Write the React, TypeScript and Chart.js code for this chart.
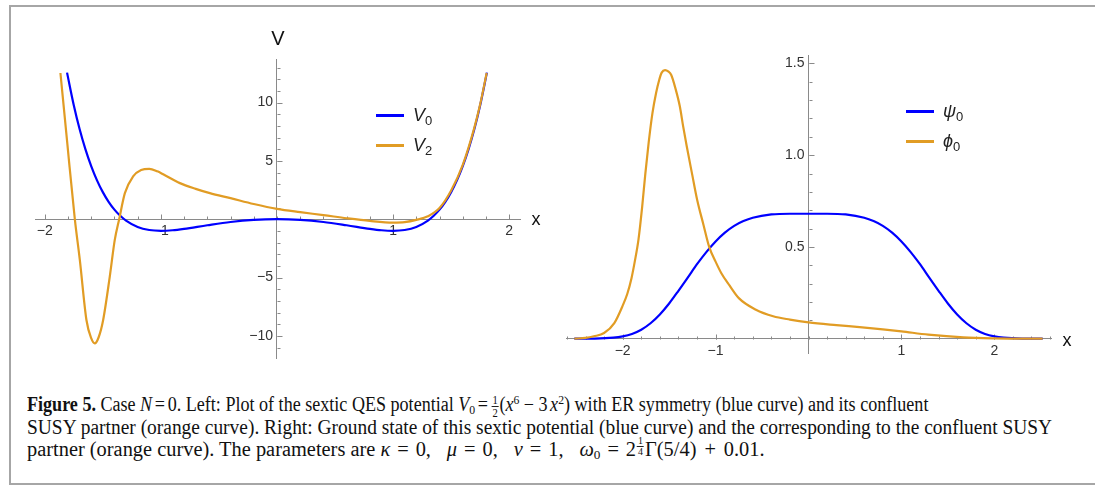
import React, { useEffect, useLayoutEffect, useRef } from 'react';
import { Chart, registerables } from 'chart.js';

Chart.register(...registerables);

// ---------------- Left panel: potentials ----------------
const v0X = [-1.808, -1.75, -1.7, -1.65, -1.6, -1.55, -1.5, -1.45, -1.4, -1.35, -1.3, -1.2, -1.1, -1.0, -0.9, -0.8, -0.6, -0.4, -0.2, 0, 0.2, 0.4, 0.6, 0.8, 0.9, 1.0, 1.1, 1.2, 1.3, 1.35, 1.4, 1.45, 1.5, 1.55, 1.6, 1.65, 1.7, 1.75, 1.808];
const v0Y = [12.56, 9.77, 7.73, 6.01, 4.55, 3.33, 2.32, 1.49, 0.82, 0.29, -0.12, -0.67, -0.93, -1.0, -0.95, -0.83, -0.52, -0.24, -0.06, 0, -0.06, -0.24, -0.52, -0.83, -0.95, -1.0, -0.93, -0.67, -0.12, 0.29, 0.82, 1.49, 2.32, 3.33, 4.55, 6.01, 7.73, 9.77, 12.56];
const v2X = [-1.865, -1.806, -1.741, -1.698, -1.641, -1.6, -1.569, -1.535, -1.497, -1.44, -1.397, -1.359, -1.31, -1.239, -1.17, -1.1, -1.03, -0.98, -0.836, -0.7, -0.578, -0.4, -0.2, 0, 0.2, 0.4, 0.6, 0.8, 1.0, 1.1, 1.2, 1.3, 1.4, 1.5, 1.6, 1.7, 1.75, 1.806];
const v2Y = [12.53, 6.52, 0, -3.49, -8.64, -10.2, -10.65, -10.1, -8.64, -4.92, -1.78, 0, 2.23, 3.66, 4.22, 4.32, 4.1, 3.85, 3.09, 2.6, 2.23, 1.8, 1.3, 0.88, 0.6, 0.35, 0.08, -0.15, -0.29, -0.25, -0.06, 0.25, 0.95, 2.45, 4.65, 7.85, 9.85, 12.53];
const leftXTicks = [-2, -1, 1, 2];
const leftYTicks = [-10, -5, 5, 10];
const leftLegend = ['V', 'V'];
const leftLegendSub = ['0', '2'];

// ---------------- Right panel: wave functions ----------------
const psiX = [-2.52, -2.3, -2.1, -2.0, -1.9, -1.8, -1.7, -1.6, -1.5, -1.4, -1.3, -1.2, -1.1, -1.0, -0.9, -0.8, -0.7, -0.6, -0.4, -0.2, 0, 0.2, 0.4, 0.6, 0.7, 0.8, 0.9, 1.0, 1.1, 1.2, 1.3, 1.4, 1.5, 1.6, 1.7, 1.8, 1.9, 2.0, 2.1, 2.3, 2.52];
const psiY = [0.0, 0.0006, 0.0053, 0.0125, 0.026, 0.049, 0.084, 0.132, 0.192, 0.261, 0.333, 0.406, 0.472, 0.530, 0.578, 0.615, 0.641, 0.659, 0.677, 0.681, 0.681, 0.681, 0.677, 0.659, 0.641, 0.615, 0.578, 0.530, 0.472, 0.406, 0.333, 0.261, 0.192, 0.132, 0.084, 0.049, 0.026, 0.0125, 0.0053, 0.0006, 0.0];
const phiX = [-2.52, -2.4, -2.31, -2.2, -2.09, -2.0, -1.95, -1.905, -1.87, -1.83, -1.79, -1.756, -1.72, -1.68, -1.64, -1.607, -1.58, -1.544, -1.51, -1.477, -1.43, -1.384, -1.35, -1.31, -1.25, -1.198, -1.13, -1.068, -1.0, -0.938, -0.85, -0.75, -0.566, -0.38, -0.2, 0, 0.3, 0.55, 0.8, 1.0, 1.29, 1.667, 2.0, 2.52];
const phiY = [0, 0.004, 0.013, 0.031, 0.085, 0.18, 0.245, 0.33, 0.42, 0.54, 0.72, 0.90, 1.07, 1.228, 1.34, 1.41, 1.45, 1.464, 1.457, 1.437, 1.36, 1.264, 1.16, 1.047, 0.89, 0.756, 0.62, 0.499, 0.42, 0.357, 0.29, 0.221, 0.158, 0.122, 0.104, 0.089, 0.074, 0.063, 0.051, 0.040, 0.022, 0.007, 0.002, 0];
const rightXTicks = [-2, -1, 1, 2];
const rightYTicks = [0.5, 1.0, 1.5];
const rightLegend = ['\u03C8', '\u03D5'];
const rightLegendSub = ['0', '0'];

const BLUE = '#0000ff';
const ORANGE = '#e19c24';
const AXIS = '#8a8a8a';
const LABEL = '#333333';
const SANS = '"Liberation Sans", Arial, sans-serif';
const GAP = '\u2009\u200A';

const fmtInt = (v: number) => (v < 0 ? '\u2212' + Math.abs(v) : String(v));
const fmtDec = (v: number) => v.toFixed(1);

const mmaTicks = {
  id: 'mmaTicks',
  beforeDatasetsDraw(chart: any, _a: any, opts: any) {
    const { ctx } = chart;
    const xs = chart.scales.x;
    const ys = chart.scales.y;
    const x0 = Math.round(xs.getPixelForValue(0)) + 0.5;
    const y0 = Math.round(ys.getPixelForValue(0)) + 0.5;
    ctx.save();
    ctx.strokeStyle = AXIS;
    ctx.lineWidth = 1;
    ctx.beginPath();
    const tx = (v: number, len: number) => {
      const p = Math.round(xs.getPixelForValue(v)) + 0.5;
      ctx.moveTo(p, y0);
      ctx.lineTo(p, y0 - len);
    };
    const ty = (v: number, len: number) => {
      const p = Math.round(ys.getPixelForValue(v)) + 0.5;
      ctx.moveTo(x0, p);
      ctx.lineTo(x0 + len, p);
    };
    const xn = Math.round((opts.xTo - opts.xFrom) / opts.xStep);
    for (let i = 0; i <= xn; i++) tx(opts.xFrom + i * opts.xStep, 3);
    const yn = Math.round((opts.yTo - opts.yFrom) / opts.yStep);
    for (let i = 0; i <= yn; i++) ty(opts.yFrom + i * opts.yStep, 3);
    opts.xMajor.forEach((v: number) => tx(v, 5));
    opts.yMajor.forEach((v: number) => ty(v, 5));
    ctx.stroke();
    ctx.restore();
  },
};

const zeroFit = (s: any) => {
  if (s.isHorizontal()) s.height = 0;
  else s.width = 0;
  s.paddingLeft = 0;
  s.paddingRight = 0;
  s.paddingTop = 0;
  s.paddingBottom = 0;
};

function makeConfig(p: any) {
  return {
    type: 'scatter',
    data: {
      datasets: [
        {
          data: p.bx.map((x: number, i: number) => ({ x, y: p.by[i] })),
          borderColor: BLUE,
          borderWidth: 2.2,
          pointRadius: 0,
          showLine: true,
          fill: false,
          cubicInterpolationMode: 'monotone',
          order: 2,
        },
        {
          data: p.ox.map((x: number, i: number) => ({ x, y: p.oy[i] })),
          borderColor: ORANGE,
          borderWidth: 2.2,
          pointRadius: 0,
          showLine: true,
          fill: false,
          cubicInterpolationMode: 'monotone',
          order: 1,
        },
      ],
    },
    options: {
      animation: false,
      responsive: false,
      maintainAspectRatio: false,
      devicePixelRatio: 1,
      events: [],
      layout: { padding: p.padding },
      plugins: {
        legend: { display: false },
        tooltip: { enabled: false },
        mmaTicks: p.ticks,
      },
      scales: {
        x: {
          type: 'linear',
          min: p.xMin,
          max: p.xMax,
          position: { y: 0 },
          afterFit: zeroFit,
          afterBuildTicks: (s: any) => {
            s.ticks = p.xTicks.map((v: number) => ({ value: v }));
          },
          ticks: {
            callback: (v: number) => p.xFmt(v),
            font: { family: SANS, size: 14 },
            color: LABEL,
            padding: 1,
            maxRotation: 0,
            autoSkip: false,
          },
          grid: { display: true, drawOnChartArea: false, drawTicks: true, tickLength: 3, tickColor: 'rgba(0,0,0,0)' },
          border: { display: true, color: AXIS, width: 1 },
        },
        y: {
          type: 'linear',
          min: p.yMin,
          max: p.yMax,
          position: { x: 0 },
          afterFit: zeroFit,
          afterBuildTicks: (s: any) => {
            s.ticks = p.yTicks.map((v: number) => ({ value: v }));
          },
          ticks: {
            callback: (v: number) => p.yFmt(v) + GAP,
            font: { family: SANS, size: 14 },
            color: LABEL,
            padding: 2,
            autoSkip: false,
          },
          grid: { display: true, drawOnChartArea: false, drawTicks: true, tickLength: 4, tickColor: 'rgba(0,0,0,0)' },
          border: { display: true, color: AXIS, width: 1 },
        },
      },
    },
    plugins: [mmaTicks],
  };
}

function Plot({ cfg, left, top, width, height }: any) {
  const ref = useRef<HTMLCanvasElement | null>(null);
  useEffect(() => {
    if (!ref.current) return;
    const chart = new Chart(ref.current, makeConfig(cfg) as any);
    return () => chart.destroy();
  }, []);
  return (
    <canvas
      ref={ref}
      width={width}
      height={height}
      style={{ position: 'absolute', left, top, width, height }}
    />
  );
}

const leftCfg = {
  bx: v0X, by: v0Y, ox: v2X, oy: v2Y,
  xMin: -2.084, xMax: 2.093, yMin: -11.9, yMax: 13.73,
  xTicks: leftXTicks, yTicks: leftYTicks, xFmt: fmtInt, yFmt: fmtInt,
  padding: { left: 15, top: 19, right: 30, bottom: 12 },
  ticks: { xFrom: -2, xTo: 2, xStep: 0.2, yFrom: -11, yTo: 13, yStep: 1, xMajor: leftXTicks, yMajor: leftYTicks },
};

const rightCfg = {
  bx: psiX, by: psiY, ox: phiX, oy: phiY,
  xMin: -2.61, xMax: 2.61, yMin: -0.078, yMax: 1.546,
  xTicks: rightXTicks, yTicks: rightYTicks, xFmt: fmtInt, yFmt: fmtDec,
  padding: { left: 11, top: 15, right: 24, bottom: 17 },
  ticks: { xFrom: -2.6, xTo: 2.6, xStep: 0.2, yFrom: 0.1, yTo: 1.5, yStep: 0.1, xMajor: rightXTicks, yMajor: rightYTicks },
};

function Legend({ left, top, names, subs }: any) {
  const colors = [BLUE, ORANGE];
  return (
    <>
      {names.map((n: string, i: number) => (
        <React.Fragment key={i}>
          <div style={{ position: 'absolute', left, top: top + i * 30 - 1.5, width: 28, height: 3, background: colors[i] }} />
          <div
            style={{
              position: 'absolute', left: left + 37, top: top + i * 30 - 11, height: 22, lineHeight: '22px',
              fontFamily: SANS, fontSize: 18, color: '#222', whiteSpace: 'nowrap',
            }}
          >
            <i>{n}</i>
            <span style={{ fontSize: 13, position: 'relative', top: 4 }}>{subs[i]}</span>
          </div>
        </React.Fragment>
      ))}
    </>
  );
}

const Frac = ({ a, b, size }: any) => (
  <span style={{ display: 'inline-block', verticalAlign: 'middle', textAlign: 'center', fontSize: size, lineHeight: 1, margin: '0 1px' }}>
    <span style={{ display: 'block', borderBottom: '0.8px solid #222', padding: '0 1px' }}>{a}</span>
    <span style={{ display: 'block' }}>{b}</span>
  </span>
);

const Op = ({ c, m }: any) => <span style={{ margin: `0 ${m}px` }}>{c}</span>;
const Sp = ({ w }: any) => <span style={{ display: 'inline-block', width: w }} />;

const supStyle: any = { fontSize: '0.65em', position: 'relative', top: '-0.5em', lineHeight: 0 };
const subStyle: any = { fontSize: '0.65em', position: 'relative', top: '0.25em', lineHeight: 0 };

export default function App() {
  const capRef = useRef<HTMLDivElement | null>(null);
  useLayoutEffect(() => {
    const el = capRef.current;
    if (!el) return;
    const lines: any[] = Array.from(el.querySelectorAll('[data-w]'));
    lines.forEach((n: any) => {
      const target = parseFloat(n.getAttribute('data-w'));
      const w = n.scrollWidth;
      if (w > 0) n.style.transform = `scaleX(${target / w})`;
    });
  }, []);

  const lineStyle: any = {
    position: 'absolute', left: 27, whiteSpace: 'nowrap', transformOrigin: '0 50%',
    height: 23, lineHeight: '23px', display: 'inline-block',
  };

  return (
    <div style={{ position: 'fixed', left: 0, top: 0, width: 1095, height: 487, background: '#fff', overflow: 'hidden' }}>
      <div
        style={{
          position: 'absolute', left: 9, top: 5, width: 1090, height: 480,
          borderLeft: '2px solid #a6a6a6', borderTop: '2px solid #a6a6a6', borderBottom: '2px solid #a6a6a6',
          boxSizing: 'border-box',
        }}
      />
      <Plot cfg={leftCfg} left={20} top={40} width={530} height={330} />
      <Plot cfg={rightCfg} left={555} top={40} width={520} height={330} />

      <div style={{ position: 'absolute', left: 278, top: 38, transform: 'translate(-50%,-50%)', fontFamily: SANS, fontSize: 20, color: '#111', lineHeight: 1 }}>V</div>
      <div style={{ position: 'absolute', left: 536, top: 219, transform: 'translate(-50%,-50%)', fontFamily: SANS, fontSize: 18, color: '#111', lineHeight: 1 }}>x</div>
      <div style={{ position: 'absolute', left: 1067, top: 340, transform: 'translate(-50%,-50%)', fontFamily: SANS, fontSize: 18, color: '#111', lineHeight: 1 }}>x</div>

      <Legend left={376} top={115} names={leftLegend} subs={leftLegendSub} />
      <Legend left={906} top={111} names={rightLegend} subs={rightLegendSub} />

      <div ref={capRef} style={{ fontFamily: '"Liberation Serif", "Times New Roman", serif', fontSize: 20.5, color: '#111' }}>
        <div data-w="901" style={{ ...lineStyle, top: 393 }}>
          <b>Figure 5.</b> Case <i>N</i><Op c="=" m={3} />0. Left: Plot of the sextic QES potential <i>V</i><span style={subStyle}>0</span><Op c="=" m={3} /><Frac a="1" b="2" size={12} />(<i>x</i><span style={supStyle}>6</span><Op c={'\u2212'} m={5} />3<Sp w={3} /><i>x</i><span style={supStyle}>2</span>) with ER symmetry (blue curve) and its confluent
        </div>
        <div data-w="1025" style={{ ...lineStyle, top: 415.5 }}>
          SUSY partner (orange curve). Right: Ground state of this sextic potential (blue curve) and the corresponding to the confluent SUSY
        </div>
        <div data-w="738" style={{ ...lineStyle, top: 438 }}>
          partner (orange curve). The parameters are <i>&kappa;</i><Op c="=" m={7} />0,<Sp w={16} /><i>&mu;</i><Op c="=" m={7} />0,<Sp w={16} /><i>&nu;</i><Op c="=" m={7} />1,<Sp w={16} /><i>&omega;</i><span style={subStyle}>0</span><Op c="=" m={7} />2<span style={{ position: 'relative', top: -5 }}><Frac a="1" b="4" size={10} /></span>&Gamma;(5/4)<Op c="+" m={8} />0.01.
        </div>
      </div>
    </div>
  );
}
